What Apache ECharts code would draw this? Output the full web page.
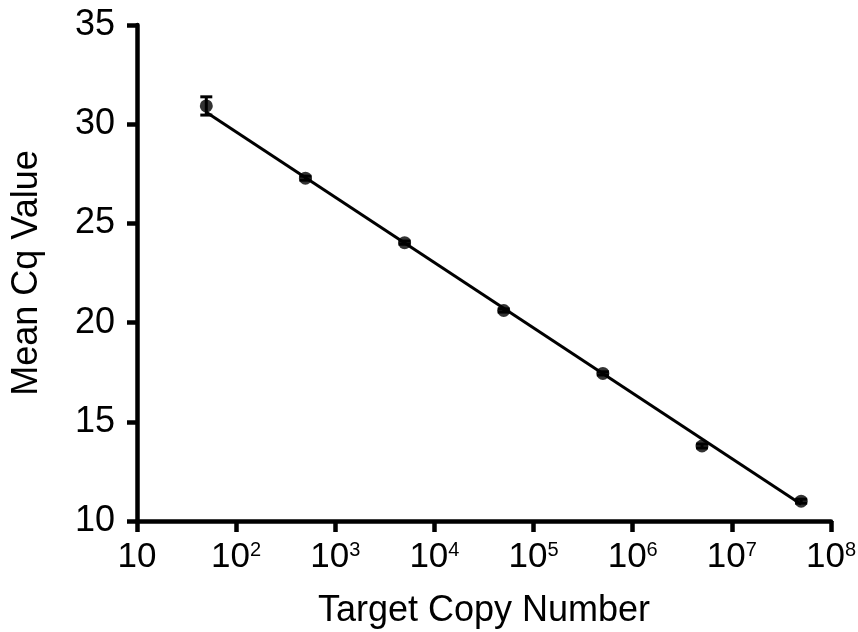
<!DOCTYPE html>
<html>
<head>
<meta charset="utf-8">
<script src="https://cdn.jsdelivr.net/npm/echarts@6/dist/echarts.min.js"></script>
<style>html,body{margin:0;padding:0;background:#fff}#c{width:858px;height:632px}</style>
</head>
<body>
<div id="c"></div>
<script>
// Data
var copyNumbers = [50, 500, 5000, 50000, 500000, 5000000, 50000000];
var meanCq = [30.92, 27.28, 24.03, 20.61, 17.44, 13.78, 11.0];
var cqError = [0.46, 0.1, 0.08, 0.08, 0.08, 0.1, 0.1];
var fitX = [50, 50000000];
var fitY = [30.6, 10.85];
var yTicks = [10, 15, 20, 25, 30, 35];
var xTickExponents = [1, 2, 3, 4, 5, 6, 7, 8];

var FONT = '"Liberation Sans", Arial, Helvetica, sans-serif';
var pts = copyNumbers.map(function (x, i) { return [x, meanCq[i]]; });
var errs = copyNumbers.map(function (x, i) { return [x, meanCq[i] - cqError[i], meanCq[i] + cqError[i]]; });
var fit = fitX.map(function (x, i) { return [x, fitY[i]]; });

var chart = echarts.init(document.getElementById('c'));
chart.setOption({
  animation: false,
  backgroundColor: '#fff',
  grid: { left: 137, top: 25, right: 27, bottom: 111, containLabel: false, outerBoundsMode: 'none' },
  xAxis: {
    type: 'log', logBase: 10, min: 10, max: 1e8,
    name: 'Target Copy Number', nameLocation: 'middle', nameGap: 72,
    nameTextStyle: { fontFamily: FONT, fontSize: 36, color: '#000' },
    axisLine: { lineStyle: { color: '#000', width: 4.5 } },
    axisTick: { length: 11, lineStyle: { color: '#000', width: 4.5 } },
    splitLine: { show: false },
    minorTick: { show: false },
    axisLabel: {
      margin: 19, color: '#000', fontFamily: FONT, fontSize: 35,
      formatter: function (v) {
        var e = Math.round(Math.log10(v));
        if (xTickExponents.indexOf(e) < 0) return '';
        if (e === 1) return '10';
        return '10{sup|' + e + '}';
      },
      rich: { sup: { fontSize: 20, verticalAlign: 'top', padding: [0, 0, 14, 0], fontFamily: FONT, color: '#000' } }
    }
  },
  yAxis: {
    type: 'value', min: 10, max: 35, interval: 5,
    name: 'Mean Cq Value', nameLocation: 'middle', nameGap: 92, nameRotate: 90,
    nameTextStyle: { fontFamily: FONT, fontSize: 36, color: '#000' },
    axisLine: { show: true, lineStyle: { color: '#000', width: 4.5 } },
    axisTick: { show: true, length: 10, lineStyle: { color: '#000', width: 4.5 } },
    splitLine: { show: false },
    axisLabel: { margin: 22, color: '#000', fontFamily: FONT, fontSize: 36 }
  },
  series: [
    {
      type: 'line', data: fit, symbol: 'none',
      lineStyle: { color: '#000', width: 3 }, z: 2
    },
    {
      type: 'custom', data: errs, z: 3,
      renderItem: function (params, api) {
        var x = api.value(0);
        var lo = api.coord([x, api.value(1)]);
        var hi = api.coord([x, api.value(2)]);
        var hw = 6;
        var st = { stroke: '#000', lineWidth: 3 };
        return {
          type: 'group',
          children: [
            { type: 'line', shape: { x1: lo[0], y1: lo[1], x2: hi[0], y2: hi[1] }, style: st },
            { type: 'line', shape: { x1: lo[0] - hw, y1: lo[1], x2: lo[0] + hw, y2: lo[1] }, style: st },
            { type: 'line', shape: { x1: hi[0] - hw, y1: hi[1], x2: hi[0] + hw, y2: hi[1] }, style: st }
          ]
        };
      }
    },
    {
      type: 'scatter', data: pts, symbol: 'circle', symbolSize: 13,
      itemStyle: { color: '#000' }, z: 4
    }
  ]
});
</script>
</body>
</html>
